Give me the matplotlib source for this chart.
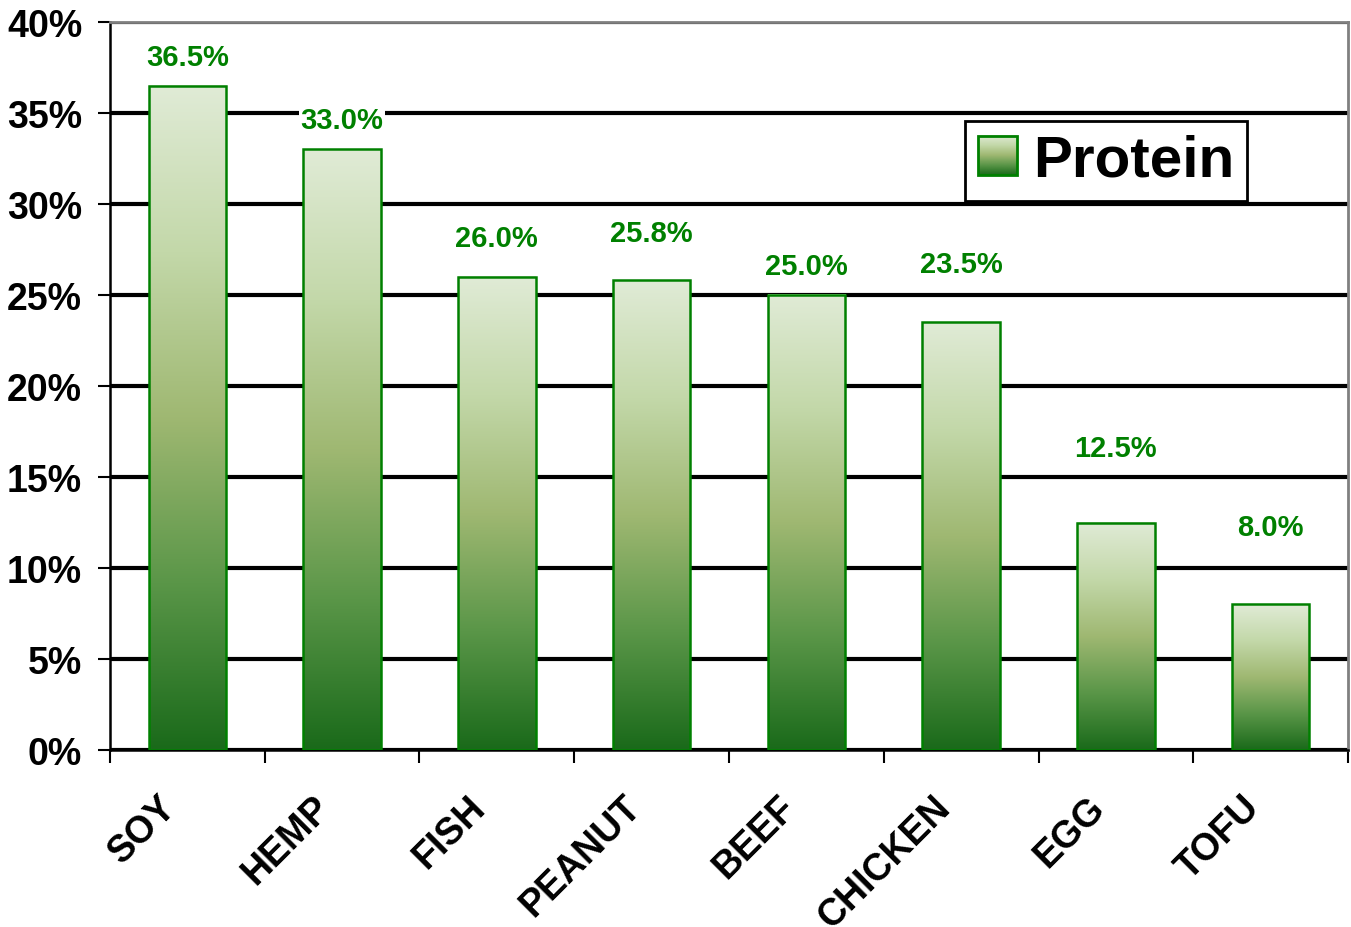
import numpy as np
import matplotlib
matplotlib.use("Agg")
import matplotlib.pyplot as plt
from matplotlib.colors import LinearSegmentedColormap
from matplotlib.legend_handler import HandlerBase
from matplotlib.image import BboxImage
from matplotlib.transforms import Bbox, TransformedBbox
from matplotlib.patches import Rectangle

# data
foods = ["SOY", "HEMP", "FISH", "PEANUT", "BEEF", "CHICKEN", "EGG", "TOFU"]
protein = [36.5, 33.0, 26.0, 25.8, 25.0, 23.5, 12.5, 8.0]
yticks = [0, 5, 10, 15, 20, 25, 30, 35, 40]

# label offsets above the bar tops (points), as placed in the original
label_offsets = [21, 21, 28, 34, 21, 42, 54, 56]

plt.rcParams['font.family'] = ['Liberation Sans', 'DejaVu Sans']
plt.rcParams['font.weight'] = 'bold'

green_cmap = LinearSegmentedColormap.from_list(
    "grn", [(0.0, "#1a6a1a"), (0.25, "#5a9648"), (0.5, "#9fb872"),
            (0.75, "#c3d8a9"), (1.0, "#e0ebd6")])
grad = np.linspace(0, 1, 256).reshape(-1, 1)


class GradientHandler(HandlerBase):
    def create_artists(self, legend, orig_handle, xdescent, ydescent,
                       width, height, fontsize, trans):
        bb = Bbox.from_bounds(-xdescent, -ydescent, width, height)
        img = BboxImage(TransformedBbox(bb, trans), cmap=green_cmap,
                        origin='lower', interpolation='bicubic')
        img.set_data(grad)
        edge = Rectangle((-xdescent, -ydescent), width, height,
                         fc='none', ec='#008000', lw=2, transform=trans)
        return [img, edge]


fig = plt.figure(figsize=(13.51, 9.28), dpi=100)
ax = fig.add_axes([0.0814, 0.1907, 0.9164, 0.7845])

x = np.arange(len(foods))
bars = ax.bar(x, protein, width=0.5, facecolor='none', edgecolor='#008000',
              linewidth=1.8, zorder=4)

for b, v, off in zip(bars, protein, label_offsets):
    x0 = b.get_x()
    w = b.get_width()
    ax.imshow(grad, cmap=green_cmap, origin='lower', aspect='auto',
              extent=(x0, x0 + w, 0, v), zorder=3, interpolation='bicubic')
    ax.annotate(f"{v:.1f}%", (x0 + w / 2, v), xytext=(0, off),
                textcoords='offset points', ha='center', va='center',
                fontsize=21, fontweight='bold', color='#008000', zorder=5,
                bbox=dict(fc='white', ec='none', pad=1))

ax.set_xlim(-0.5, len(foods) - 0.5)
ax.set_ylim(0, 40)

ax.set_yticks(yticks)
ax.set_yticklabels([f"{t}%" for t in yticks], fontsize=27, fontweight='bold')
ax.yaxis.grid(True, color='black', linewidth=3)
ax.set_axisbelow(True)
ax.tick_params(axis='y', length=9, width=1.5, pad=11)

# category names, rotated, placed below each bar
ax.set_xticks(x)
ax.set_xticklabels([])
ax.tick_params(axis='x', which='major', length=0)
for i, name in enumerate(foods):
    ax.annotate(name, (i, 0), xycoords=('data', 'axes fraction'),
                xytext=(-12, -37), textcoords='offset points',
                rotation=45, rotation_mode='anchor', ha='right', va='center',
                fontsize=27, fontweight='bold', annotation_clip=False)
ax.set_xticks(np.arange(-0.5, len(foods)), minor=True)
ax.tick_params(axis='x', which='minor', length=9, width=1.5)

for s in ['left', 'bottom']:
    ax.spines[s].set_linewidth(1.8)
    ax.spines[s].set_color('black')
for s in ['top', 'right']:
    ax.spines[s].set_linewidth(2)
    ax.spines[s].set_color('#808080')

h = Rectangle((0, 0), 1, 1)
leg = ax.legend([h], ["Protein"], handler_map={Rectangle: GradientHandler()},
                loc='upper left', bbox_to_anchor=(0.691, 0.864),
                prop={'size': 42, 'weight': 'bold'},
                handlelength=0.66, handleheight=0.66, handletextpad=0.28,
                borderpad=0.22, borderaxespad=0, fancybox=False,
                framealpha=1, edgecolor='black')
leg.get_frame().set_linewidth(2)
leg.set_zorder(6)

fig.savefig("out.png", dpi=100)
